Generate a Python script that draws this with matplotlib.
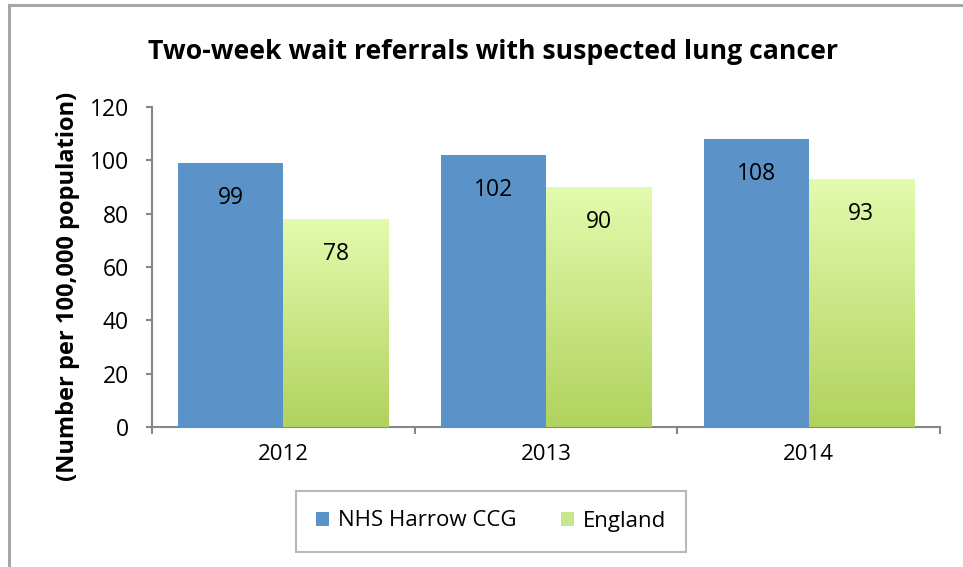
import numpy as np
import matplotlib.pyplot as plt
from matplotlib.patches import Rectangle
from matplotlib.colors import LinearSegmentedColormap

years = ['2012', '2013', '2014']
harrow = [99, 102, 108]
england = [78, 90, 93]
yticks = [0, 20, 40, 60, 80, 100, 120]

plt.rcParams['font.family'] = ['Open Sans', 'DejaVu Sans']

W, H = 963, 567
fig = plt.figure(figsize=(W / 100, H / 100), dpi=100)
ax = fig.add_axes([152 / W, 1 - 427 / H, (940 - 152) / W, (427 - 107) / H])

# outer chart border (right and bottom edges fall outside the picture)
fig.patches.append(Rectangle((9 / W, -0.1), 1.2, 1 - 5 / H + 0.1, transform=fig.transFigure,
                             fill=False, edgecolor='#a6a6a6', linewidth=2.2))

x = np.arange(len(years))
w = 0.4
blue = '#5b93c8'
bars1 = ax.bar(x - w / 2, harrow, w, color=blue, zorder=3, label='NHS Harrow CCG')
bars2 = ax.bar(x + w / 2, england, w, color='none', zorder=3, label='England')

# vertical green gradient inside the England bars
grad = np.linspace(0, 1, 256).reshape(-1, 1)
cmap = LinearSegmentedColormap.from_list('g', ['#b1d25e', '#e3fbae'])
for b in bars2:
    x0, y0 = b.get_x(), b.get_y()
    ax.imshow(grad, extent=[x0, x0 + b.get_width(), y0, y0 + b.get_height()],
              origin='lower', cmap=cmap, aspect='auto', zorder=3)

for b, v in zip(list(bars1) + list(bars2), harrow + england):
    ax.annotate(str(v), (b.get_x() + b.get_width() / 2, v), xytext=(0, -35),
                textcoords='offset pixels',
                ha='center', va='center', fontsize=16.5, zorder=5)

ax.set_xlim(-0.5, 2.5)
ax.set_ylim(0, 120)
ax.set_yticks(yticks)
ax.set_yticklabels([str(t) for t in yticks], fontsize=16.5)
ax.set_xticks(x)
ax.set_xticklabels(years, fontsize=16)
ax.set_xticks([-0.5, 0.5, 1.5, 2.5], minor=True)
ax.tick_params(axis='x', which='major', length=0, pad=12)
ax.tick_params(axis='x', which='minor', length=5, color='#868686', width=1.5)
ax.tick_params(axis='y', length=4.5, color='#868686', width=1.5, pad=12)

for s in ['top', 'right']:
    ax.spines[s].set_visible(False)
for s in ['left', 'bottom']:
    ax.spines[s].set_color('#868686')
    ax.spines[s].set_linewidth(1.5)

fig.text(68 / W, 1 - 286 / H, '(Number per 100,000 population)', rotation=90,
         ha='center', va='center', fontsize=17, fontweight='bold')
fig.text(493 / W, 1 - 52 / H, 'Two-week wait referrals with suspected lung cancer',
         ha='center', va='center', fontsize=19.2, fontweight='bold')

leg = fig.legend(handles=[bars1, bars2], labels=['NHS Harrow CCG', 'England'],
                 loc='center', bbox_to_anchor=(491 / W, 1 - 521 / H), ncol=2,
                 fontsize=16, frameon=True, fancybox=False, edgecolor='#a6a6a6',
                 handlelength=0.6, handleheight=0.6, columnspacing=2.0,
                 borderpad=0.9, handletextpad=0.4, borderaxespad=0)
leg.get_frame().set_linewidth(1.5)
leg.legend_handles[1].set_facecolor('#c8e68a')

fig.savefig('out.png', dpi=100)
